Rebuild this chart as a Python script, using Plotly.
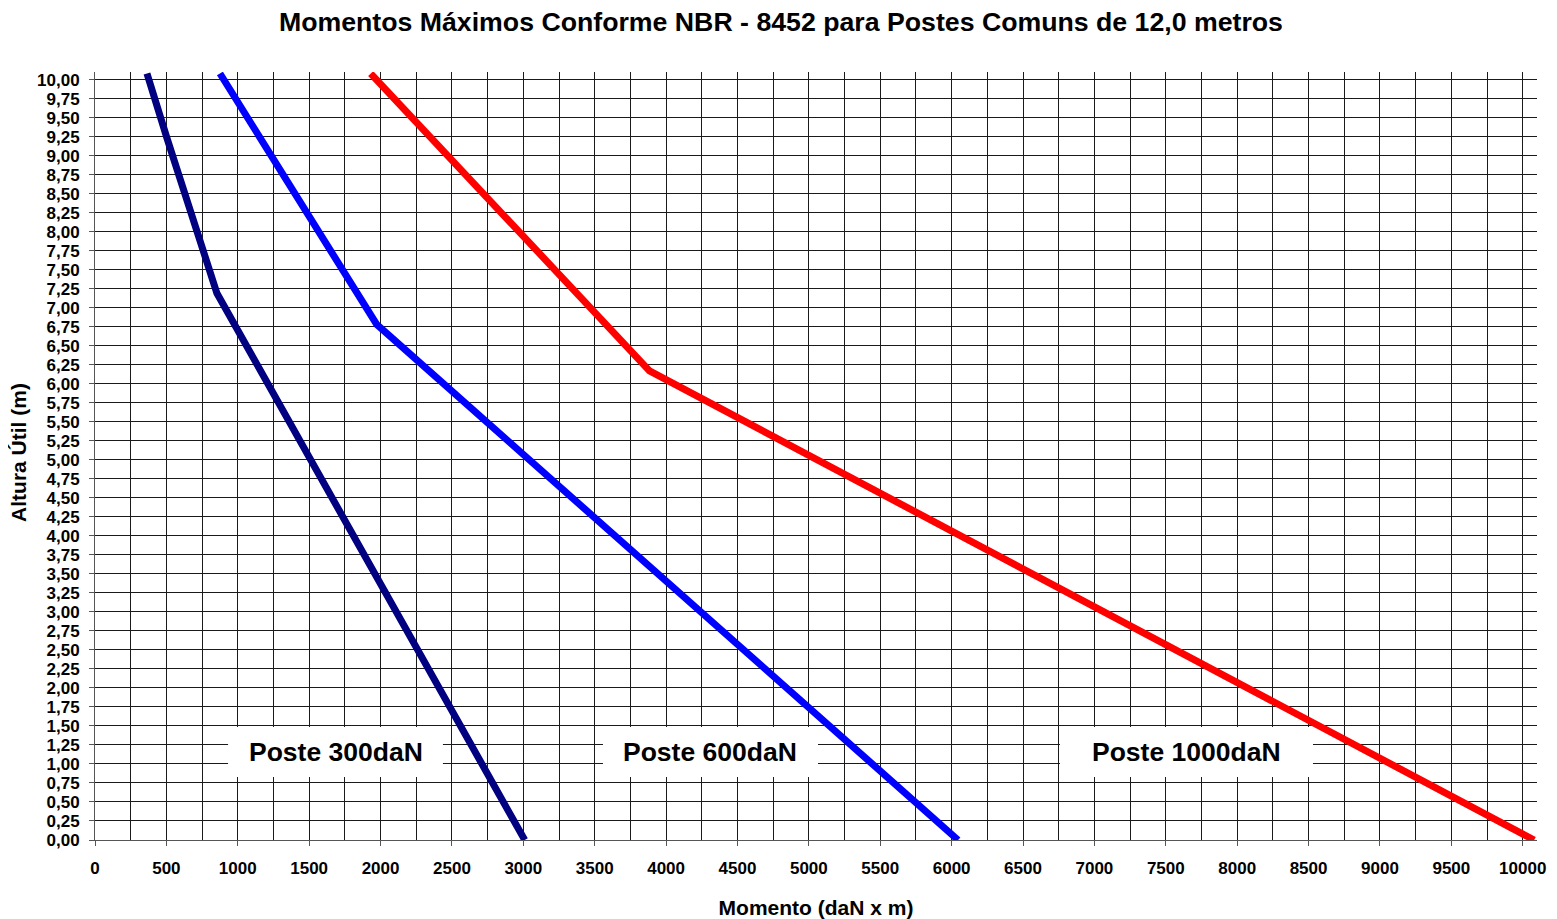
import plotly.graph_objects as go

# ---- data ----
heights_300 = [10.08, 9.23, 7.19, 0.0]
moment_300 = [364, 504, 854, 3010]

heights_600 = [10.08, 6.78, 0.0]
moment_600 = [875, 1973, 6045]

heights_1000 = [10.08, 6.17, 0.0]
moment_1000 = [1931, 3884, 10080]

series_names = ["Poste 300daN", "Poste 600daN", "Poste 1000daN"]
series_colors = ["#000080", "#0000FF", "#FF0000"]

title_text = "Momentos Máximos Conforme NBR - 8452 para Postes Comuns de 12,0 metros"
x_title = "Momento (daN x m)"
y_title = "Altura Útil (m)"

# label boxes (x0, x1 in moment units; y0, y1 in height units)
label_boxes = [(932, 2437), (3558, 5064), (6759, 8531)]
label_box_y = (0.828, 1.485)

FONT = "Liberation Sans, Arial, sans-serif"

fig = go.Figure()
for xs, ys, name, col in zip(
    [moment_300, moment_600, moment_1000],
    [heights_300, heights_600, heights_1000],
    series_names, series_colors,
):
    fig.add_trace(go.Scatter(x=xs, y=ys, mode="lines", name=name,
                             line=dict(color=col, width=7), showlegend=False,
                             hoverinfo="x+y"))

for (bx0, bx1), name in zip(label_boxes, series_names):
    fig.add_shape(type="rect", xref="x", yref="y", x0=bx0, x1=bx1,
                  y0=label_box_y[0], y1=label_box_y[1],
                  fillcolor="white", line=dict(width=0), layer="between")
    fig.add_annotation(x=(bx0 + bx1) / 2, y=sum(label_box_y) / 2, xref="x", yref="y",
                       text="<b>" + name + "</b>", showarrow=False,
                       font=dict(family=FONT, size=26.5, color="black"))

# y-axis title as a rotated annotation (placed further left than axis title allows)
fig.add_annotation(x=0, y=0.504, xref="paper", yref="paper", xanchor="center",
                   yanchor="middle", xshift=-76, textangle=-90, showarrow=False,
                   text="<b>" + y_title + "</b>",
                   font=dict(family=FONT, size=21, color="black"))

grid_col = "#1a1a1a"
# page body has an 8px margin, so the figure is sized/offset to compensate
fig.update_layout(
    width=1549, height=911,
    margin=dict(l=87, r=20, t=64, b=79, autoexpand=False),
    paper_bgcolor="white", plot_bgcolor="white",
    separators=",.",
    title=dict(text="<b>" + title_text + "</b>", x=0.499, xanchor="center",
               xref="container", y=0.985, yref="container", yanchor="middle",
               font=dict(family=FONT, size=26.7, color="black"), automargin=False),
    xaxis=dict(range=[0, 10100], dtick=500, tick0=0, tickformat="d", showgrid=True,
               gridcolor=grid_col, gridwidth=1, automargin=False,
               minor=dict(dtick=250, showgrid=True, gridcolor=grid_col, gridwidth=1),
               ticks="outside", ticklen=5, tickcolor="#555", ticklabelstandoff=8,
               showline=True, linecolor="#555", linewidth=1,
               zeroline=False,
               tickfont=dict(family=FONT, size=17, color="black", weight="bold"),
               title=dict(text="<b>" + x_title + "</b>", standoff=24,
                          font=dict(family=FONT, size=21, color="black"))),
    yaxis=dict(range=[0, 10.1], dtick=0.25, tick0=0, tickformat=".2f",
               showgrid=True, gridcolor=grid_col, gridwidth=1, automargin=False,
               ticks="outside", ticklen=5, tickcolor="#555", ticklabelstandoff=6,
               showline=True, linecolor="#555", linewidth=1,
               zeroline=False,
               tickfont=dict(family=FONT, size=17, color="black", weight="bold")),
)

fig.write_html("out.html")
